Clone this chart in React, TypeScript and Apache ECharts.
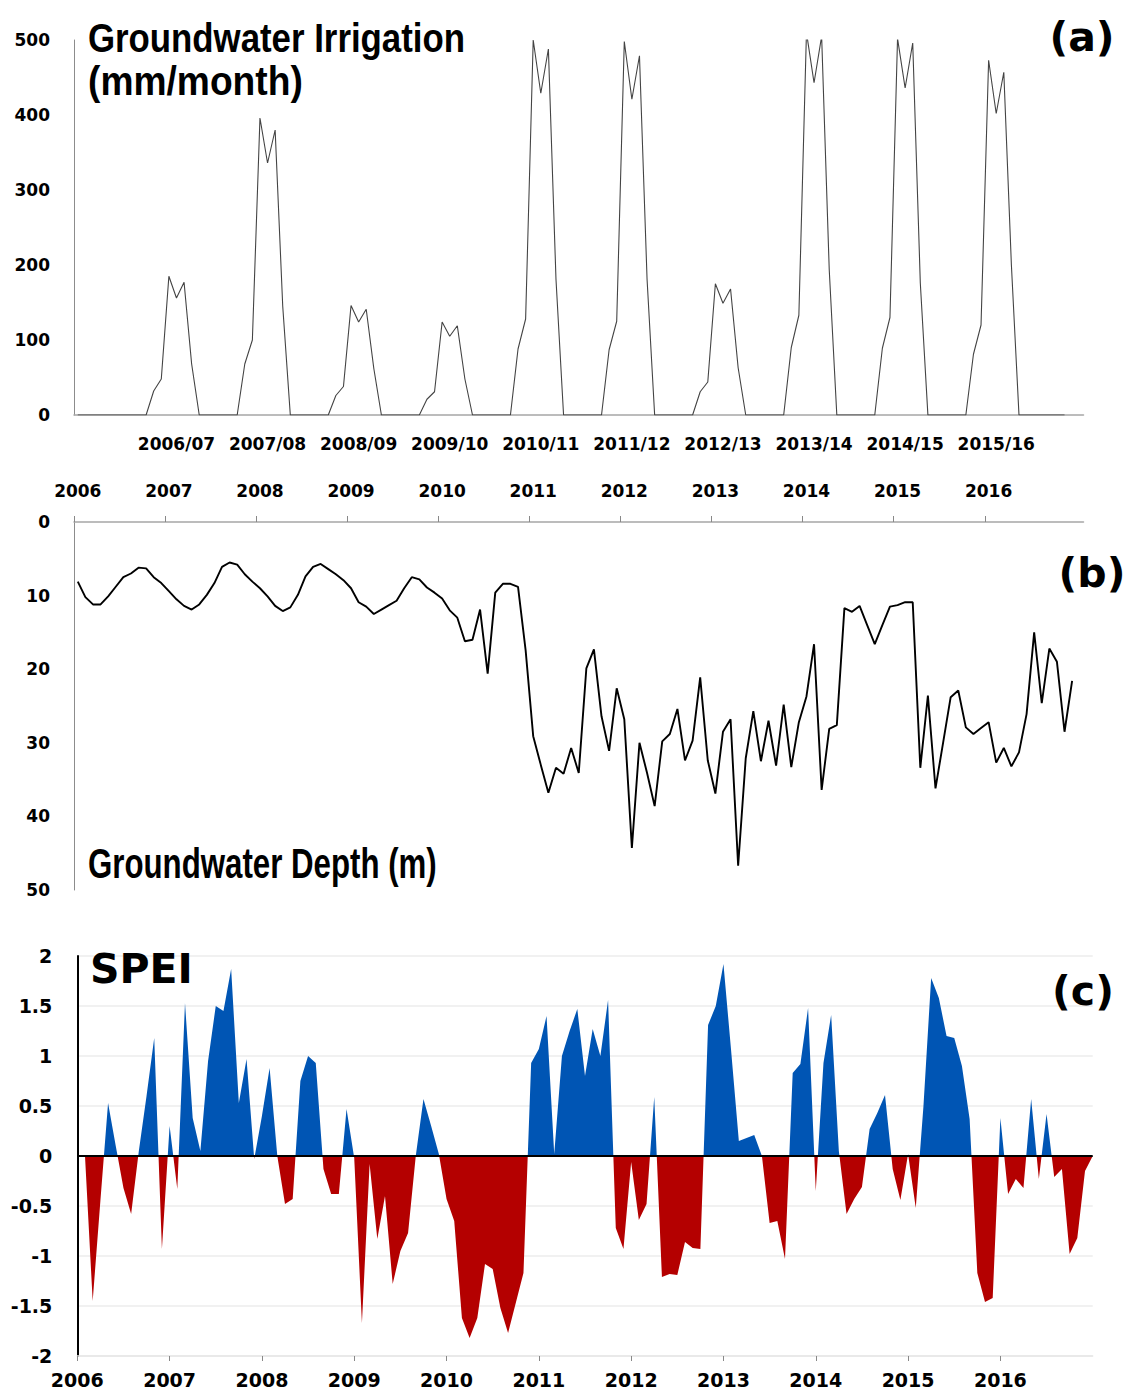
import React, { useEffect, useRef } from "react";
import * as echarts from "echarts";

// ---------- data ----------
const years = ["2006", "2007", "2008", "2009", "2010", "2011", "2012", "2013", "2014", "2015", "2016"];
const seasons = ["2006/07", "2007/08", "2008/09", "2009/10", "2010/11", "2011/12", "2012/13", "2013/14", "2014/15", "2015/16"];

// Groundwater irrigation (mm/month), monthly from Jan 2006
const irrigation = [
  0, 0, 0, 0, 0, 0, 0, 0, 0, 0, 32, 48,
  185, 156, 177, 68, 0, 0, 0, 0, 0, 0, 68, 100,
  396, 336, 380, 145, 0, 0, 0, 0, 0, 0, 26, 38,
  146, 124, 141, 62, 0, 0, 0, 0, 0, 0, 21, 31,
  124, 105, 119, 48, 0, 0, 0, 0, 0, 0, 88, 128,
  500, 429, 488, 181, 0, 0, 0, 0, 0, 0, 87, 125,
  498, 421, 479, 181, 0, 0, 0, 0, 0, 0, 31, 44,
  175, 149, 168, 63, 0, 0, 0, 0, 0, 0, 90, 133,
  510, 443, 505, 194, 0, 0, 0, 0, 0, 0, 89, 130,
  502, 436, 496, 176, 0, 0, 0, 0, 0, 0, 81, 120,
  473, 402, 457, 200, 0, 0, 0, 0, 0, 0, 0,
];

// Groundwater depth (m), monthly from Jan 2006
const depth = [
  8.1, 10.2, 11.2, 11.2, 10.1, 8.8, 7.5, 7.0, 6.2, 6.3, 7.5, 8.3,
  9.4, 10.5, 11.4, 11.9, 11.2, 9.9, 8.3, 6.1, 5.5, 5.8, 7.1, 8.1,
  9.0, 10.1, 11.4, 12.1, 11.6, 9.9, 7.4, 6.1, 5.7, 6.4, 7.1, 7.9,
  9.0, 10.9, 11.5, 12.5, 11.9, 11.3, 10.7, 9.0, 7.5, 7.8, 8.9, 9.6,
  10.4, 12.0, 13.0, 16.2, 16.0, 11.9, 20.6, 9.6, 8.4, 8.4, 8.8, 17.4,
  29.1, 33.0, 36.8, 33.4, 34.2, 30.7, 34.1, 19.9, 17.3, 26.4, 31.1, 22.6,
  26.8, 44.3, 30.0, 34.1, 38.6, 29.8, 28.8, 25.4, 32.4, 29.7, 21.1, 32.4,
  36.9, 28.5, 26.8, 46.7, 32.1, 25.7, 32.5, 27.0, 33.1, 24.8, 33.3, 27.2,
  23.7, 16.6, 36.4, 28.1, 27.6, 11.7, 12.2, 11.4, 14.0, 16.6, 14.0, 11.5,
  11.3, 10.9, 10.9, 33.4, 23.6, 36.2, 30.0, 23.8, 22.9, 27.9, 28.8, 28.0,
  27.2, 32.7, 30.7, 33.2, 31.3, 26.1, 15.0, 24.6, 17.2, 19.0, 28.5, 21.6,
];

// SPEI, monthly from Jan 2006 to Jan 2017
const spei = [
  0, 0, -1.45, -0.45, 0.53, 0.1, -0.32, -0.58, 0.05, 0.6, 1.18, -0.93,
  0.3, -0.33, 1.53, 0.38, 0.05, 0.95, 1.5, 1.45, 1.87, 0.53, 0.97, -0.03,
  0.4, 0.88, 0.0, -0.48, -0.43, 0.75, 1.0, 0.93, -0.13, -0.38, -0.38, 0.47,
  -0.02, -1.67, -0.08, -0.83, -0.4, -1.28, -0.95, -0.77, 0.0, 0.57, 0.3, 0.02,
  -0.43, -0.65, -1.62, -1.82, -1.62, -1.08, -1.13, -1.52, -1.77, -1.47, -1.17, 0.93,
  1.07, 1.4, 0.02, 1.0, 1.25, 1.47, 0.8, 1.27, 1.0, 1.56, -0.72, -0.93,
  -0.06, -0.64, -0.48, 0.59, -1.21, -1.18, -1.19, -0.86, -0.92, -0.93, 1.31, 1.5,
  1.92, 1.05, 0.15, 0.18, 0.21, 0.0, -0.67, -0.65, -1.03, 0.83, 0.92, 1.48,
  -0.35, 0.93, 1.41, 0.05, -0.58, -0.43, -0.31, 0.27, 0.43, 0.61, -0.13, -0.44,
  0.02, -0.52, 0.5, 1.78, 1.58, 1.2, 1.18, 0.9, 0.37, -1.17, -1.46, -1.42,
  0.38, -0.38, -0.23, -0.32, 0.57, -0.23, 0.42, -0.21, -0.13, -0.98, -0.82, -0.15,
  0,
];

// ---------- styling ----------
const LABEL_FONT = "DejaVu Sans";
const TITLE_FONT = "Liberation Sans";
const BLUE = "#0055b4";
const RED = "#b40000";
const AXIS_GRAY = "#a6a6a6";

// panel (c) grid geometry
const C_TOP = 956;
const C_HEIGHT = 400;

export default function App() {
  const ref = useRef<HTMLDivElement>(null);

  useEffect(() => {
    if (!ref.current) return;
    const chart = echarts.init(ref.current, null, { renderer: "svg" });

    const lbl = (size: number, margin: number) => ({
      fontFamily: LABEL_FONT,
      fontWeight: "bold",
      fontSize: size,
      color: "#000",
      margin,
    });

    const seasonPos = seasons.map((_, k) => 13 + 12 * k);
    const yearPos = years.map((_, k) => 12 * k);
    const yearBoundary = years.map((_, k) => 12 * k - 0.5);

    // blue above zero, red below (zero is at the middle of the -2..2 axis)
    const speiFill = new echarts.graphic.LinearGradient(
      0, C_TOP, 0, C_TOP + C_HEIGHT,
      [
        { offset: 0, color: BLUE },
        { offset: 0.5, color: BLUE },
        { offset: 0.5, color: RED },
        { offset: 1, color: RED },
      ],
      true
    );

    const text = (t: string, x: number, y: number, size: number, family: string, align: string, scaleX = 1) => ({
      type: "text",
      x,
      y,
      z: 100,
      scaleX,
      style: { text: t, fontFamily: family, fontWeight: "bold", fontSize: size, fill: "#000", align, verticalAlign: "middle" },
    });

    const option: any = {
      animation: false,
      backgroundColor: "#fff",
      grid: [
        { left: 74, top: 40, width: 1009.5, height: 375 },
        { left: 74, top: 522, width: 1009.5, height: 368 },
        { left: 77.3, top: C_TOP, width: 1015.4, height: C_HEIGHT },
      ],
      xAxis: [
        {
          type: "value",
          gridIndex: 0,
          min: -0.5,
          max: 132.5,
          axisLine: { show: true, onZero: false, lineStyle: { color: AXIS_GRAY, width: 1.5 } },
          axisTick: { show: false },
          splitLine: { show: false },
          axisLabel: {
            ...lbl(17, 20),
            customValues: seasonPos,
            formatter: (v: number) => seasons[Math.round((v - 13) / 12)] ?? "",
          },
        },
        {
          type: "value",
          gridIndex: 1,
          position: "top",
          min: -0.5,
          max: 132.5,
          axisLine: { show: true, onZero: false, lineStyle: { color: AXIS_GRAY, width: 1.5 } },
          axisTick: { show: true, customValues: yearBoundary, length: 6, lineStyle: { color: "#888" } },
          splitLine: { show: false },
          axisLabel: {
            ...lbl(17, 23),
            customValues: yearPos,
            formatter: (v: number) => years[Math.round(v / 12)] ?? "",
          },
        },
        {
          type: "value",
          gridIndex: 2,
          min: 0,
          max: 132,
          axisLine: { show: true, onZero: false, lineStyle: { color: "#e6e6e6", width: 1.5 } },
          axisTick: { show: true, customValues: yearPos, length: 5, lineStyle: { color: "#888" } },
          splitLine: { show: false },
          axisLabel: {
            ...lbl(19, 14),
            customValues: yearPos,
            formatter: (v: number) => years[Math.round(v / 12)] ?? "",
          },
        },
      ],
      yAxis: [
        {
          type: "value",
          gridIndex: 0,
          min: 0,
          max: 500,
          interval: 100,
          axisLine: { show: true, onZero: false, lineStyle: { color: "#8c8c8c", width: 1 } },
          axisTick: { show: false },
          splitLine: { show: false },
          axisLabel: lbl(17, 24),
        },
        {
          type: "value",
          gridIndex: 1,
          inverse: true,
          min: 0,
          max: 50,
          interval: 10,
          axisLine: { show: true, onZero: false, lineStyle: { color: "#8c8c8c", width: 1 } },
          axisTick: { show: false },
          splitLine: { show: false },
          axisLabel: lbl(17, 24),
        },
        {
          type: "value",
          gridIndex: 2,
          min: -2,
          max: 2,
          interval: 0.5,
          axisLine: { show: true, onZero: false, lineStyle: { color: "#000", width: 2 } },
          axisTick: { show: false },
          splitLine: { show: true, lineStyle: { color: "#ececec", width: 1.5 } },
          axisLabel: lbl(19, 25),
        },
      ],
      series: [
        {
          type: "line",
          xAxisIndex: 0,
          yAxisIndex: 0,
          data: irrigation.map((v, i) => [i, v]),
          symbol: "none",
          clip: true,
          lineStyle: { color: "#444", width: 1.1 },
        },
        {
          type: "line",
          xAxisIndex: 1,
          yAxisIndex: 1,
          data: depth.map((v, i) => [i, v]),
          symbol: "none",
          lineStyle: { color: "#000", width: 1.9 },
        },
        {
          type: "line",
          xAxisIndex: 2,
          yAxisIndex: 2,
          data: spei.map((v, i) => [i, v]),
          symbol: "none",
          lineStyle: { width: 0 },
          itemStyle: { color: BLUE },
          areaStyle: { opacity: 1, color: speiFill },
          markLine: {
            silent: true,
            symbol: ["none", "none"],
            label: { show: false },
            lineStyle: { color: "#000", width: 2, type: "solid" },
            data: [{ yAxis: 0 }],
          },
        },
      ],
      graphic: [
        text("Groundwater Irrigation", 88, 38, 40, TITLE_FONT, "left", 0.87),
        text("(mm/month)", 88, 81, 40, TITLE_FONT, "left", 0.93),
        text("Groundwater Depth (m)", 88, 863, 42, TITLE_FONT, "left", 0.744),
        text("SPEI", 90, 969, 41, LABEL_FONT, "left"),
        text("(a)", 1082, 37, 41, LABEL_FONT, "center"),
        text("(b)", 1092, 573, 41, LABEL_FONT, "center"),
        text("(c)", 1083, 991, 41, LABEL_FONT, "center"),
      ],
    };

    chart.setOption(option);
    return () => chart.dispose();
  }, []);

  return (
    <div
      ref={ref}
      style={{ position: "fixed", left: 0, top: 0, width: 1128, height: 1390, background: "#fff" }}
    />
  );
}
